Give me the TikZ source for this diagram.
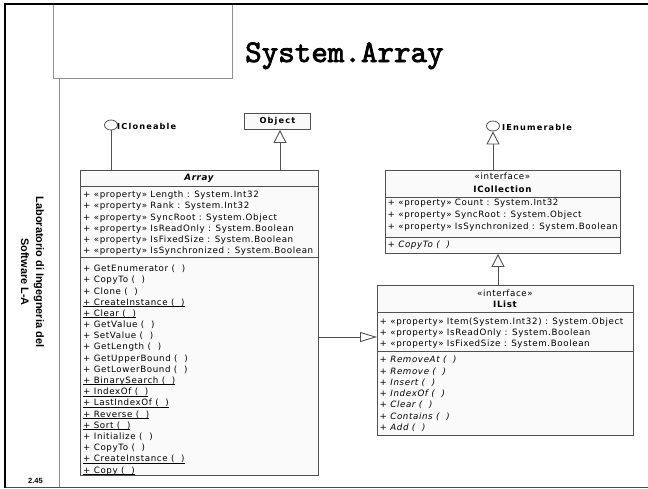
\documentclass[tikz,border=0pt]{standalone}
\usepackage{fontspec}
\usetikzlibrary{arrows.meta,shapes.geometric}
\newfontfamily\umlf[LetterSpace=7]{DejaVu Sans}
\newfontfamily\umllab[LetterSpace=14]{DejaVu Sans}
\newfontfamily\sidef{Liberation Sans}
\newfontfamily\titlef{lmmono10-regular.otf}[FakeBold=2.4]
\newcommand\ulx[1]{\setbox0\hbox{#1}\rlap{\rule[-1.6pt]{\wd0}{0.55pt}}\box0}
\definecolor{boxline}{HTML}{505050}
\definecolor{boxfill}{HTML}{FAFAFA}
\definecolor{frameg}{HTML}{909090}
\tikzset{
  umlbox/.style={draw=boxline, fill=boxfill, line width=0.9pt, anchor=north west, inner sep=0pt},
  sep/.style={draw=boxline, line width=0.8pt},
  row/.style={anchor=west, inner sep=0pt, font=\umlf\fontsize{8.7}{10}\selectfont},
  cname/.style={inner sep=0pt, font=\umlf\fontsize{8.7}{10}\selectfont\bfseries},
  lolli/.style={draw=boxline, fill=white, line width=0.8pt, ellipse, minimum width=13pt, minimum height=10pt, inner sep=0pt},
  lab/.style={anchor=west, inner sep=0pt, font=\umllab\fontsize{8.2}{10}\selectfont\bfseries},
  conn/.style={draw=boxline, line width=0.9pt},
  inh/.style={conn, -{Triangle[open, length=13pt, width=13pt, fill=white]}},
  real/.style={conn, -{Triangle[open, length=17pt, width=10pt, fill=white]}},
  side/.style={inner sep=0pt, rotate=-90, anchor=base, font=\sidef\fontsize{10.9}{13}\selectfont\bfseries},
}
\begin{document}
\begin{tikzpicture}[x=1pt, y=-1pt]
\useasboundingbox (0,0) rectangle (648,488);
% frame
\draw[frameg, line width=0.8pt] (53,4) -- (53,78) -- (232,78) -- (232,4);
\draw[frameg, line width=0.8pt] (59,78) -- (59,488);
\draw[black!70, line width=1pt] (5,487) -- (648,487);
\draw[black, line width=2pt] (5,488) -- (5,4) -- (648,4);
% title
\node[anchor=base west, inner sep=0pt, font=\titlef\fontsize{31.5}{34}\selectfont] (title) at (245,62) {System.Array};
% sidebar
\node[side] (side1) at (36,272) {Laboratorio di Ingegneria del};
\node[side] (side2) at (21,272) {Software L-A};
\node[anchor=base west, inner sep=0pt, font=\sidef\fontsize{7.5}{9}\selectfont\bfseries] (pagenum) at (28,483) {2.45};

% Array class
\node[umlbox, minimum width=238pt, minimum height=305pt] (array) at (80,170) {};
\draw[sep] (80,186) -- (318,186);
\draw[sep] (80,257) -- (318,257);
\node[cname, font=\umlf\fontsize{8.7}{10}\selectfont\bfseries\itshape] (arrayname) at (199,178) {Array};
\foreach \t [count=\i] in {
  {+ «property» Length : System.Int32},
  {+ «property» Rank : System.Int32},
  {+ «property» SyncRoot : System.Object},
  {+ «property» IsReadOnly : System.Boolean},
  {+ «property» IsFixedSize : System.Boolean},
  {+ «property» IsSynchronized : System.Boolean}}
  \node[row] (aattr\i) at (83,{195+(\i-1)*11.3}) {\t};
\foreach \t [count=\i] in {
  {+ GetEnumerator (\ \ )},
  {+ CopyTo (\ \ )},
  {+ Clone (\ \ )},
  {\ulx{+ CreateInstance (\ \ )}},
  {\ulx{+ Clear (\ \ )}},
  {+ GetValue (\ \ )},
  {+ SetValue (\ \ )},
  {+ GetLength (\ \ )},
  {+ GetUpperBound (\ \ )},
  {+ GetLowerBound (\ \ )},
  {\ulx{+ BinarySearch (\ \ )}},
  {\ulx{+ IndexOf (\ \ )}},
  {\ulx{+ LastIndexOf (\ \ )}},
  {\ulx{+ Reverse (\ \ )}},
  {\ulx{+ Sort (\ \ )}},
  {+ Initialize (\ \ )},
  {+ CopyTo (\ \ )},
  {\ulx{+ CreateInstance (\ \ )}},
  {\ulx{+ Copy (\ \ )}}}
  \node[row] (aop\i) at (83,{269+(\i-1)*11.2}) {\t};

% Object
\node[umlbox, minimum width=66pt, minimum height=16pt] (object) at (244,113) {};
\node[lab, anchor=center] (objectname) at (object.center) {Object};

% ICloneable
\node[lolli] (iclone) at (111,125) {};
\node[lab] (iclonelab) at (117,126) {ICloneable};

% ICollection
\node[umlbox, minimum width=235pt, minimum height=83pt] (icoll) at (385,170) {};
\draw[sep] (385,197) -- (620,197);
\draw[sep] (385,237) -- (620,237);
\node[row, anchor=center] (icollst) at (502.5,176.5) {«interface»};
\node[cname] (icollname) at (502.5,189.5) {ICollection};
\foreach \t [count=\i] in {
  {+ «property» Count : System.Int32},
  {+ «property» SyncRoot : System.Object},
  {+ «property» IsSynchronized : System.Boolean}}
  \node[row] (cattr\i) at (387.5,{203.5+(\i-1)*11.6}) {\t};
\node[row, font=\umlf\fontsize{8.7}{10}\selectfont\itshape] (cop1) at (387.5,245.5) {+ CopyTo (\ \ )};

% IEnumerable
\node[lolli] (ienum) at (493,126) {};
\node[lab] (ienumlab) at (502,127) {IEnumerable};

% IList
\node[umlbox, minimum width=256pt, minimum height=150pt] (ilist) at (377,285) {};
\draw[sep] (377,312) -- (633,312);
\draw[sep] (377,351) -- (633,351);
\node[row, anchor=center] (ilistst) at (505,293) {«interface»};
\node[cname] (ilistname) at (505,304.5) {IList};
\foreach \t [count=\i] in {
  {+ «property» Item(System.Int32) : System.Object},
  {+ «property» IsReadOnly : System.Boolean},
  {+ «property» IsFixedSize : System.Boolean}}
  \node[row] (lattr\i) at (379.5,{322+(\i-1)*10.8}) {\t};
\foreach \t [count=\i] in {
  {RemoveAt}, {Remove}, {Insert}, {IndexOf}, {Clear}, {Contains}, {Add}}
  \node[row, font=\umlf\fontsize{8.7}{10}\selectfont\itshape] (lop\i) at (379.5,{360+(\i-1)*11.3}) {+ \t\ (\ \ )};

% connectors
\coordinate (objx) at (280,0);
\coordinate (clx) at (498,0);
\coordinate (rely) at (0,337);
\draw[conn] (iclone.south) -- (iclone.south |- array.north);
\draw[inh] (array.north -| objx) -- (object.south -| objx);
\draw[inh] (ienum.south |- icoll.north) -- (ienum.south);
\draw[inh] (ilist.north -| clx) -- (icoll.south -| clx);
\draw[real] (array.east |- rely) -- (ilist.west |- rely);
\end{tikzpicture}
\end{document}
